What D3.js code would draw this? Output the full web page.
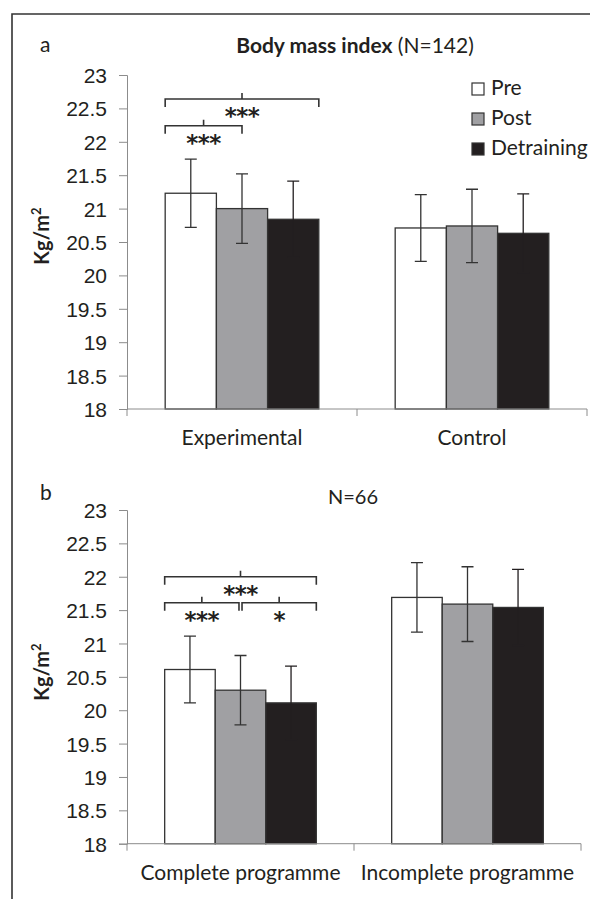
<!DOCTYPE html>
<html>
<head>
<meta charset="utf-8">
<script src="https://cdn.jsdelivr.net/npm/d3@7"></script>
<style>
  body { margin: 0; background: #fff; }
  svg { display: block; font-family: Lato, "Open Sans", sans-serif; }
  text { fill: #231f20; }
</style>
</head>
<body>
<svg width="590" height="899"></svg>
<script>
var phases = ["Pre", "Post", "Detraining"];
var phaseColors = ["#ffffff", "#a0a0a3", "#231f20"];
var yTicks = [18, 18.5, 19, 19.5, 20, 20.5, 21, 21.5, 22, 22.5, 23];

// panel a
var catsA = ["Experimental", "Control"];
var meanA = [[21.23, 21.00, 20.84], [20.71, 20.74, 20.63]];
var errA  = [[0.51, 0.52, 0.57], [0.50, 0.55, 0.59]];
var sigA  = [
  {cat: 0, from: 0, to: 3, level: 22.64, label: "***"},
  {cat: 0, from: 0, to: 1.5, level: 22.24, label: "***"}
];

// panel b
var catsB = ["Complete programme", "Incomplete programme"];
var meanB = [[20.61, 20.30, 20.11], [21.69, 21.59, 21.54]];
var errB  = [[0.50, 0.52, 0.55], [0.52, 0.56, 0.57]];
var sigB  = [
  {cat: 0, from: 0, to: 3, level: 22.00, label: "***"},
  {cat: 0, from: 0, to: 1.47, level: 21.61, label: "***"},
  {cat: 0, from: 1.53, to: 3, level: 21.61, label: "*"}
];

var svg = d3.select("svg");
var axisColor = "#8c8c8c";
var ink = "#231f20";

// outer frame (top and left rules)
svg.append("path")
    .attr("d", "M12,899V14H590")
    .attr("fill", "none")
    .attr("stroke", "#333")
    .attr("stroke-width", 1.6);

var draw_panel = function(o) {
  var g = svg.append("g");

  var y = d3.scaleLinear().domain([18, 23]).range([o.bottom, o.top]);
  var x0 = d3.scaleBand().domain(d3.range(o.cats.length)).range([o.left, o.right]);
  var x1 = d3.scaleBand().domain(phases)
      .range([x0.bandwidth() * 0.166, x0.bandwidth() * 0.834]);

  // y axis
  var yAxis = g.append("g")
      .attr("transform", "translate(" + o.left + ",0)")
      .call(d3.axisLeft(y).tickValues(yTicks).tickSize(8).tickPadding(12)
        .tickFormat(function(d) { return d; }));
  yAxis.select(".domain").attr("stroke", axisColor);
  yAxis.selectAll(".tick line").attr("stroke", axisColor);
  yAxis.selectAll(".tick text").attr("font-size", 21).attr("fill", ink).attr("dy", "0.36em");

  // category groups
  var grp = g.selectAll(".grp")
    .data(o.means)
    .enter().append("g")
      .attr("class", "grp")
      .attr("transform", function(d, i) { return "translate(" + x0(i) + ",0)"; });

  grp.selectAll("rect")
    .data(function(d) { return d; })
    .enter().append("rect")
      .attr("x", function(d, i) { return x1(phases[i]); })
      .attr("y", function(d) { return y(d); })
      .attr("width", x1.bandwidth())
      .attr("height", function(d) { return y(18) - y(d); })
      .attr("fill", function(d, i) { return phaseColors[i]; })
      .attr("stroke", "#333")
      .attr("stroke-width", 1.3);

  // error bars (lower half vanishes inside the black bar)
  grp.each(function(d, ci) {
    var eg = d3.select(this);
    d.forEach(function(m, i) {
      var cx = x1(phases[i]) + x1.bandwidth() / 2;
      var e = o.errs[ci][i];
      var hi = y(m + e), lo = y(m - e);
      eg.append("path")
        .attr("d", "M" + cx + "," + lo + "V" + hi +
                   "M" + (cx - 6) + "," + hi + "H" + (cx + 6) +
                   "M" + (cx - 6) + "," + lo + "H" + (cx + 6))
        .attr("fill", "none")
        .attr("stroke", i === 2 ? ink : "#333")
        .attr("stroke-width", 1.3);
    });
  });

  // x axis
  var xAxis = g.append("g")
      .attr("transform", "translate(0," + o.bottom + ")");
  xAxis.append("path")
      .attr("d", "M" + o.left + ",0H" + o.right)
      .attr("stroke", axisColor).attr("fill", "none");
  var edges = x0.domain().map(function(i) { return x0(i); }).concat([o.right]);
  xAxis.selectAll(".xt")
    .data(edges)
    .enter().append("line")
      .attr("x1", function(d) { return d; }).attr("x2", function(d) { return d; })
      .attr("y1", 0).attr("y2", 7)
      .attr("stroke", axisColor);
  xAxis.selectAll(".xl")
    .data(o.cats)
    .enter().append("text")
      .attr("x", function(d, i) { return x0(i) + x0.bandwidth() / 2; })
      .attr("y", 36)
      .attr("text-anchor", "middle")
      .attr("font-size", 21)
      .text(function(d) { return d; });

  // significance brackets
  var unit = x1.bandwidth();
  o.sig.forEach(function(s) {
    var base = x0(s.cat) + x1(phases[0]);
    var xa = base + s.from * unit, xb = base + s.to * unit;
    var yy = y(s.level);
    var xm = (xa + xb) / 2;
    g.append("path")
      .attr("d", "M" + xa + "," + (yy + 8) + "V" + yy + "H" + xb + "V" + (yy + 8) +
                 "M" + xm + "," + yy + "V" + (yy - 6))
      .attr("fill", "none")
      .attr("stroke", "#333")
      .attr("stroke-width", 1.6);
    g.append("text")
      .attr("x", xm)
      .attr("y", yy + 25)
      .attr("text-anchor", "middle")
      .attr("font-family", "'DejaVu Sans', sans-serif")
      .attr("font-size", 23)
      .attr("font-weight", "bold")
      .attr("letter-spacing", -0.5)
      .text(s.label);
  });

  // y title
  var yt = g.append("text")
      .attr("transform", "translate(" + o.ytX + "," + o.ytY + ") rotate(-90)")
      .attr("text-anchor", "middle")
      .attr("font-size", 20)
      .attr("font-weight", "bold");
  yt.append("tspan").text("Kg/m");
  yt.append("tspan").attr("font-size", 13).attr("dy", -8).text("2");

  // panel letter
  g.append("text")
      .attr("x", 40).attr("y", o.letterY)
      .attr("font-size", 21)
      .text(o.letter);

  return g;
};

var gA = draw_panel({
  cats: catsA, means: meanA, errs: errA, sig: sigA,
  left: 127, right: 587, top: 75, bottom: 409,
  ytX: 49, ytY: 236, letter: "a", letterY: 52
});

var gB = draw_panel({
  cats: catsB, means: meanB, errs: errB, sig: sigB,
  left: 127, right: 581, top: 510, bottom: 843.7,
  ytX: 49, ytY: 672, letter: "b", letterY: 500
});

// titles
var tA = svg.append("text")
    .attr("x", 355).attr("y", 53)
    .attr("text-anchor", "middle")
    .attr("font-size", 21);
tA.append("tspan").attr("font-weight", "bold").text("Body mass index");
tA.append("tspan").text(" (N=142)");

svg.append("text")
    .attr("x", 353).attr("y", 504)
    .attr("text-anchor", "middle")
    .attr("font-size", 20)
    .text("N=66");

// legend
var legend = svg.append("g").attr("transform", "translate(472,83)");
var li = legend.selectAll(".li")
  .data(phases)
  .enter().append("g")
    .attr("transform", function(d, i) { return "translate(0," + (i * 30) + ")"; });
li.append("rect")
    .attr("width", 12).attr("height", 12)
    .attr("fill", function(d, i) { return phaseColors[i]; })
    .attr("stroke", "#333").attr("stroke-width", 1.2);
li.append("text")
    .attr("x", 19).attr("y", 12)
    .attr("font-size", 21)
    .text(function(d) { return d; });
</script>
</body>
</html>
